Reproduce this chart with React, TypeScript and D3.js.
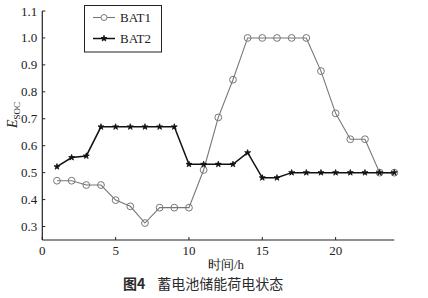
import React from "react";
import * as d3 from "d3";

const hours = [1,2,3,4,5,6,7,8,9,10,11,12,13,14,15,16,17,18,19,20,21,22,23,24];
const bat1 = [0.47,0.47,0.454,0.454,0.398,0.375,0.313,0.37,0.37,0.37,0.51,0.705,0.845,1.0,1.0,1.0,1.0,1.0,0.877,0.72,0.624,0.624,0.5,0.5];
const bat2 = [0.522,0.556,0.562,0.67,0.67,0.67,0.67,0.67,0.67,0.531,0.531,0.531,0.531,0.574,0.481,0.481,0.5,0.5,0.5,0.5,0.5,0.5,0.5,0.5];
const xTicks = [0,5,10,15,20];
const yTicks = [0.3,0.4,0.5,0.6,0.7,0.8,0.9,1.0,1.1];
const seriesNames = ["BAT1","BAT2"];

const W = 428, H = 298;
const serif = "Liberation Serif, Times New Roman, DejaVu Serif, serif";
const sans = "Noto Sans CJK SC, Noto Sans, sans-serif";

export default function App() {
  const x = d3.scaleLinear().domain([0,24]).range([42.3,394.3]);
  const y = d3.scaleLinear().domain([0.25,1.1]).range([240,11]);
  const line = d3.line<number>().x((_, i) => x(hours[i])).y(d => y(d));
  const star = d3.symbol().type(d3.symbolStar).size(11)() || "";
  const axisColor = "#222";
  return (
    <svg width={W} height={H} style={{position:"absolute", left:0, top:0, background:"#fff"}}>
      <rect width={W} height={H} fill="#fff" />
      <line x1={x(0)} x2={x(0)} y1={y(0.25)} y2={y(1.1)} stroke={axisColor} strokeWidth={1.2} />
      <line x1={x(0)} x2={x(24)} y1={y(0.25)} y2={y(0.25)} stroke={axisColor} strokeWidth={1.2} />
      {yTicks.map(t => (
        <g key={"y"+t}>
          <line x1={x(0)} x2={x(0)+3} y1={y(t)} y2={y(t)} stroke={axisColor} strokeWidth={1} />
          <text x={x(0)-5} y={y(t)} dy="0.35em" textAnchor="end" fontFamily={serif} fontSize={13} fill="#222">{t.toFixed(1)}</text>
        </g>
      ))}
      {xTicks.map(t => (
        <g key={"x"+t}>
          <line x1={x(t)} x2={x(t)} y1={y(0.25)} y2={y(0.25)-3} stroke={axisColor} strokeWidth={1} />
          <text x={x(t)} y={y(0.25)+15} textAnchor="middle" fontFamily={serif} fontSize={13} fill="#222">{t}</text>
        </g>
      ))}
      <text x={226} y={269} textAnchor="middle" fontFamily={serif} fontSize={13} fill="#222">时间/h</text>
      <text transform="translate(17,115) rotate(-90)" textAnchor="middle" fontFamily={serif} fontSize={13} fill="#222">
        <tspan fontStyle="italic" fontSize={14}>E</tspan><tspan fontSize={9} dy={3}>SOC</tspan>
      </text>
      <path d={line(bat1) || ""} fill="none" stroke="#777" strokeWidth={1.1} />
      {bat1.map((v,i) => (
        <circle key={"c"+i} cx={x(hours[i])} cy={y(v)} r={3.4} fill="none" stroke="#777" strokeWidth={1} />
      ))}
      <path d={line(bat2) || ""} fill="none" stroke="#111" strokeWidth={1.5} />
      {bat2.map((v,i) => (
        <path key={"s"+i} d={star} transform={`translate(${x(hours[i])},${y(v)})`} fill="#111" stroke="#111" strokeWidth={0.8} />
      ))}
      <rect x={84.5} y={5.5} width={77} height={46.5} fill="#fff" stroke="#222" strokeWidth={1} />
      <line x1={93} x2={115} y1={17.5} y2={17.5} stroke="#777" strokeWidth={1.1} />
      <circle cx={104} cy={17.5} r={3} fill="#fff" stroke="#777" strokeWidth={1} />
      <text x={120} y={17.5} dy="0.35em" fontFamily={serif} fontSize={13} fill="#222">{seriesNames[0]}</text>
      <line x1={93} x2={115} y1={38.5} y2={38.5} stroke="#111" strokeWidth={1.5} />
      <path d={star} transform="translate(104,38.5)" fill="#111" stroke="#111" strokeWidth={0.8} />
      <text x={120} y={38.5} dy="0.35em" fontFamily={serif} fontSize={13} fill="#222">{seriesNames[1]}</text>
      <text x={123} y={289} fontFamily={sans} fontSize={14} fill="#2a2a2a">
        <tspan fontWeight="bold">图4</tspan><tspan dx={12}>蓄电池储能荷电状态</tspan>
      </text>
    </svg>
  );
}
